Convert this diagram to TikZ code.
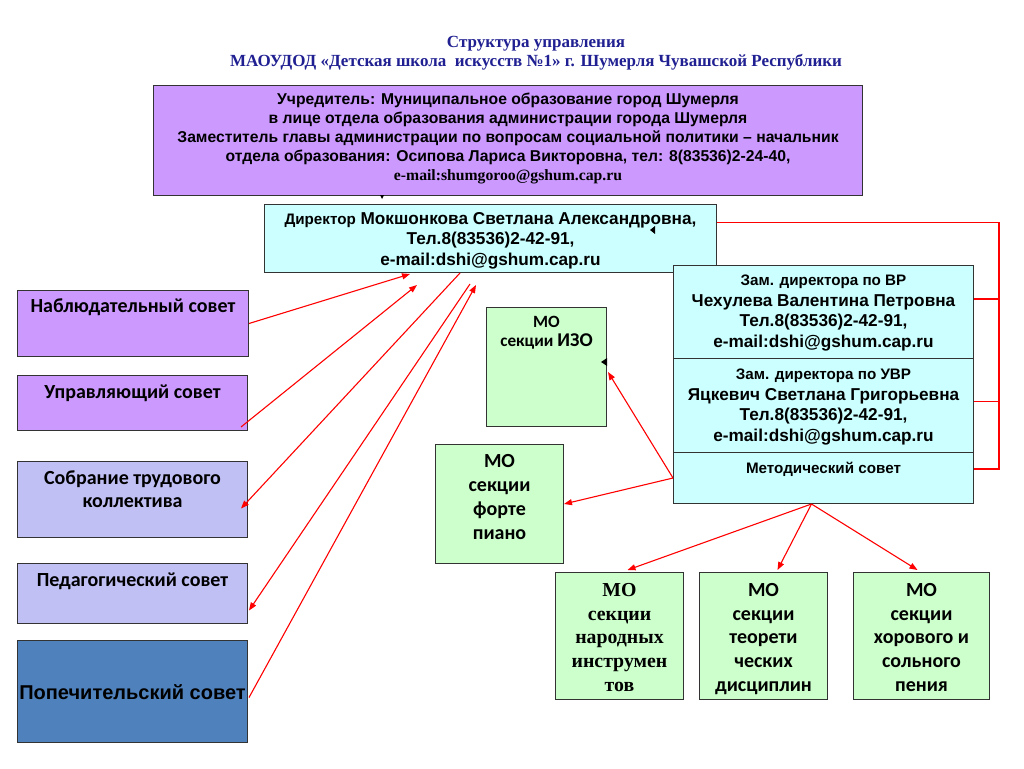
\documentclass[tikz,border=0pt]{standalone}
\usepackage{fontspec}
\setmainfont{Liberation Sans}
\newfontfamily\timesfont{Liberation Serif}
\newfontfamily\calibrifont{Carlito}
\usetikzlibrary{arrows.meta}
\definecolor{lilac}{HTML}{CC99FF}
\definecolor{paleblue}{HTML}{CCFFFF}
\definecolor{lavender}{HTML}{C0C0F5}
\definecolor{steel}{HTML}{4F81BD}
\definecolor{palegreen}{HTML}{CCFFCC}
\definecolor{navy}{HTML}{202092}
% fonts used in the boxes
\newcommand\arialbig{\fontsize{17.2}{20.5}\selectfont\bfseries}
\newcommand\arialmid{\fontsize{15.7}{19}\selectfont\bfseries}
\newcommand\arialsmall{\fontsize{15.2}{19}\selectfont\bfseries}
\newcommand\calbig{\calibrifont\fontsize{20}{23.7}\selectfont\bfseries}
\newcommand\calsmall{\calibrifont\fontsize{17.2}{19.5}\selectfont\bfseries}

\begin{document}
\begin{tikzpicture}[x=1pt, y=-1pt,
    box/.style={draw=black!80, line width=1pt, anchor=north west, inner sep=0pt},
    tag/.style={anchor=north, inner sep=0pt, align=center},
    link/.style={draw=red, line width=1.1pt},
    arr/.style={link, -{Triangle[length=8pt, width=6pt]}}]
  \useasboundingbox[fill=white] (0,0) rectangle (1024,768);

  % Title
  \node[navy, font=\timesfont\fontsize{17}{19}\selectfont\bfseries, align=center] (title) at (536,53)
    {Структура управления\\МАОУДОД «Детская школа\ \ искусств №1» г. Шумерля Чувашской Республики};

  % Founder and director
  \node[box, fill=lilac, minimum width=709, minimum height=110,
    label={[tag, yshift=-8pt, font=\arialmid]north:Учредитель: Муниципальное образование город Шумерля\\
      в лице отдела образования администрации города Шумерля\\
      Заместитель главы администрации по вопросам социальной политики – начальник\\
      отдела образования: Осипова Лариса Викторовна, тел: 8(83536)2-24-40,\\
      {\timesfont e-mail:shumgoroo@gshum.cap.ru}}] (founder) at (153,85) {};
  \node[box, fill=paleblue, minimum width=452, minimum height=68,
    label={[tag, yshift=-8pt, font=\arialbig]north:{\arialsmall Директор} Мокшонкова Светлана Александровна,\\
      Тел.8(83536)2-42-91,\\e-mail:dshi@gshum.cap.ru}] (dir) at (264,204) {};

  % Deputies and methodical council
  \node[box, fill=paleblue, minimum width=300, minimum height=93,
    label={[tag, yshift=-10pt, font=\arialbig]north:{\arialsmall Зам. директора по ВР}\\
      Чехулева Валентина Петровна\\Тел.8(83536)2-42-91,\\e-mail:dshi@gshum.cap.ru}] (vr) at (673,265) {};
  \node[box, fill=paleblue, minimum width=300, minimum height=94,
    label={[tag, yshift=-11pt, font=\arialbig]north:{\arialsmall Зам. директора по УВР}\\
      Яцкевич Светлана Григорьевна\\Тел.8(83536)2-42-91,\\e-mail:dshi@gshum.cap.ru}] (uvr) at (673,358) {};
  \node[box, fill=paleblue, minimum width=300, minimum height=51,
    label={[tag, yshift=-10pt, font=\arialsmall]north:Методический совет}] (metod) at (673,452) {};

  % Councils on the left
  \node[box, fill=lilac, minimum width=231, minimum height=66,
    label={[tag, yshift=-9pt, font=\calbig]north:Наблюдательный совет}] (nabl) at (17,290) {};
  \node[box, fill=lilac, minimum width=230, minimum height=55,
    label={[tag, yshift=-10pt, font=\calbig]north:Управляющий совет}] (upr) at (17,375) {};
  \node[box, fill=lavender, minimum width=230, minimum height=76,
    label={[tag, yshift=-10pt, font=\calibrifont\fontsize{20}{23}\selectfont\bfseries]north:Собрание трудового\\коллектива}] (sobr) at (17,461) {};
  \node[box, fill=lavender, minimum width=230, minimum height=60,
    label={[tag, yshift=-10pt, font=\calbig]north:Педагогический совет}] (ped) at (17,563) {};
  \node[box, fill=steel, minimum width=230, minimum height=102,
    label={[tag, yshift=-44pt, font=\fontsize{20}{23}\selectfont\bfseries]north:Попечительский совет}] (pop) at (17,640) {};

  % Methodical sections
  \node[box, fill=palegreen, minimum width=120, minimum height=119,
    label={[tag, yshift=-9pt, font=\calsmall]north:МО\\секции {\fontsize{19.5}{19.5}\selectfont ИЗО}}] (izo) at (486,307) {};
  \node[box, fill=palegreen, minimum width=128, minimum height=119,
    label={[tag, yshift=-10pt, font=\calibrifont\fontsize{20}{24}\selectfont\bfseries]north:МО\\секции\\форте\\пиано}] (forte) at (435,444) {};
  \node[box, fill=palegreen, minimum width=128, minimum height=127,
    label={[tag, yshift=-11pt, font=\timesfont\fontsize{19.8}{23.8}\selectfont\bfseries]north:МО\\секции\\народных\\инструмен\\тов}] (narod) at (555,572) {};
  \node[box, fill=palegreen, minimum width=128, minimum height=127,
    label={[tag, yshift=-11pt, font=\calbig]north:МО\\секции\\теорети\\ческих\\дисциплин}] (teor) at (699,572) {};
  \node[box, fill=palegreen, minimum width=136, minimum height=127,
    label={[tag, yshift=-11pt, font=\calbig]north:МО\\секции\\хорового и\\сольного\\пения}] (hor) at (853,572) {};

  % Links between councils and director
  \draw[arr] (nabl.east) -- ([shift={(146,1)}]dir.south west);
  \draw[arr] ([shift={(-7,-4)}]upr.south east) -- ([shift={(153,12)}]dir.south west);
  \draw[arr] ([shift={(196,0)}]dir.south west) -- ([shift={(-7,9)}]sobr.east);
  \draw[arr] ([shift={(206,11)}]dir.south west) -- ([shift={(1,17)}]ped.east);
  \draw[arr] ([shift={(1,6)}]pop.east) -- ([shift={(212,12)}]dir.south west);

  % Rail on the right
  \draw[link] ([shift={(0,-16)}]dir.east) -- ++(282,0) coordinate (rail) |- ([shift={(0,-9)}]metod.east);
  \draw[link] ([shift={(0,-13)}]vr.east) -- ++(25,0);
  \draw[link] ([shift={(0,-4)}]uvr.east) -- ++(25,0);

  % Methodical council to sections
  \draw[arr] (metod.west) -- ([shift={(1,5)}]izo.east);
  \draw[arr] (metod.west) -- (forte.east);
  \draw[arr] ([shift={(-12,0)}]metod.south) -- ([shift={(8,-2)}]narod.north);
  \draw[arr] ([shift={(-12,0)}]metod.south) -- ([shift={(14,-2)}]teor.north);
  \draw[arr] ([shift={(-12,0)}]metod.south) -- ([shift={(-4,-2)}]hor.north);

  % small black marks
  \fill (650,230) -- ++(5,-4) -- ++(0,8) -- cycle;
  \fill (601,362) -- ++(6,-4) -- ++(0,8) -- cycle;
  \fill (380,195) -- ++(4,0) -- ++(-2,4) -- cycle;
\end{tikzpicture}
\end{document}
